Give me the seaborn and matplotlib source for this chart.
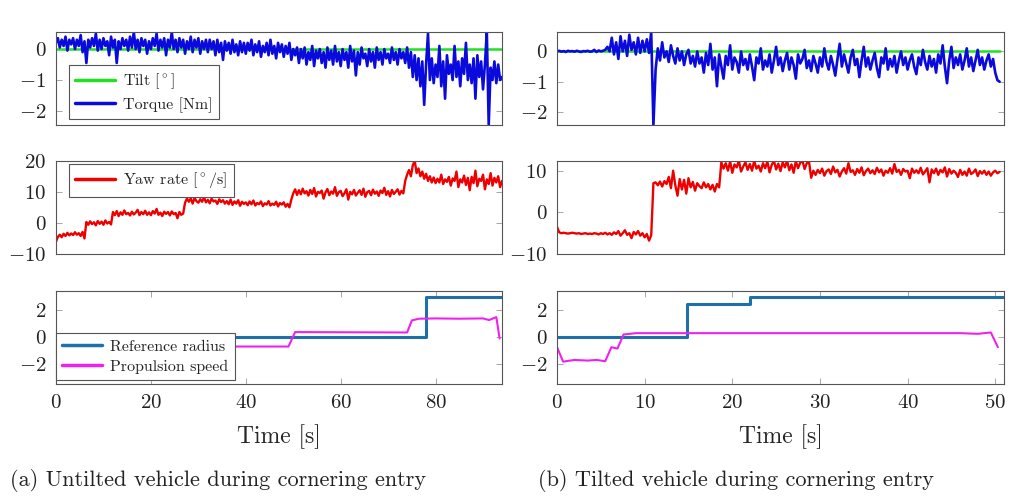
import numpy as np
import seaborn as sns
import matplotlib.pyplot as plt

# ---- data ----
# (a) untilted vehicle, torque sampled every 0.4 s
dt_a = 0.4
torque_a = [
    0.2, 0.35, 0.05, 0.3, 0.1, 0.4, -0.05, 0.3, 0.15, 0.35,
    0.0, 0.3, 0.1, 0.45, -0.1, 0.25, -0.45, 0.3, 0.05, 0.35,
    0.1, 0.5, -0.05, 0.3, 0.0, 0.35, 0.1, 0.25, -0.2, 0.4,
    0.05, 0.3, -0.45, 0.25, 0.0, 0.35, 0.1, 0.3, -0.05, 0.4,
    0.05, 0.55, 0.0, 0.3, -0.1, 0.35, 0.1, 0.3, -0.15, 0.25,
    0.0, 0.35, 0.1, 0.5, -0.05, 0.3, 0.05, 0.35, -0.2, 0.3,
    0.05, 0.55, 0.0, 0.3, -0.1, 0.35, 0.05, 0.3, -0.15, 0.25,
    0.0, 0.4, -0.1, 0.3, 0.05, 0.35, -0.15, 0.25, 0.0, 0.3,
    -0.1, 0.3, 0.0, 0.25, -0.2, 0.3, -0.1, 0.2, -0.35, 0.25,
    -0.05, 0.2, -0.15, 0.3, -0.1, 0.15, -0.2, 0.25, -0.1, 0.2,
    -0.15, 0.2, -0.05, 0.3, -0.2, 0.15, -0.1, 0.25, -0.25, 0.1,
    -0.1, 0.2, -0.2, 0.3, -0.15, 0.1, -0.3, 0.2, -0.1, 0.15,
    -0.25, 0.1, -0.15, 0.2, -0.35, 0.0, -0.2, 0.05, -0.45, 0.0,
    -0.3, 0.05, -0.5, -0.1, -0.35, 0.1, -0.55, -0.05, -0.3, 0.0,
    -0.45, -0.1, -0.6, 0.05, -0.35, -0.05, -0.5, 0.1, -0.4, -0.1,
    -0.55, 0.0, -0.35, -0.1, -0.6, 0.1, -0.4, -0.05, -0.85, -0.1,
    -0.5, 0.05, -0.3, -0.15, -0.55, 0.0, -0.4, -0.1, -0.6, 0.05,
    -0.35, -0.1, -0.5, 0.0, -0.3, -0.15, -0.45, 0.05, -0.35, -0.1,
    -0.5, 0.0, -0.3, -0.1, -0.45, 0.05, -0.6, -0.1, -0.9, -0.2,
    -1.0, -0.3, -1.2, -0.4, -1.8, -0.5, 0.5, -1.0, -0.3, -1.1,
    -0.5, -0.9, 0.1, -1.2, -0.4, -1.6, -0.2, -0.8, -0.5, -1.0,
    0.1, -0.9, -0.4, -1.2, -0.3, -0.8, 0.2, -1.0, -0.5, -1.1,
    -0.3, -1.6, -0.2, -0.9, -0.4, -1.3, -0.5, 0.55, -2.45, -0.6,
    -1.0, -0.4, -1.1, -0.5, -1.0, -0.9,
]
tilt_a = [0.0] * len(torque_a)

yaw_a = [
    -6.0, -4.5, -3.8, -4.6, -3.5, -4.2, -3.2, -4.0, -3.4, -3.9,
    -3.0, -3.8, -3.3, -4.2, -2.9, -5.0, 0.3, -0.6, 0.5, -0.4,
    0.2, -0.8, 0.6, -0.3, 0.4, -0.6, 0.8, -0.2, 0.3, -0.5,
    3.5, 2.5, 3.8, 2.2, 3.4, 2.6, 4.0, 2.8, 3.2, 2.4,
    3.6, 2.7, 3.3, 4.2, 2.5, 3.5, 2.8, 3.9, 2.6, 3.4,
    2.5, 3.8, 3.0, 4.5, 2.6, 3.3, 2.2, 3.6, 2.9, 3.5,
    2.4, 3.7, 2.8, 3.2, 1.5, 3.5, 2.6, 3.0, 6.5, 7.8,
    6.8, 7.9, 6.2, 8.0, 7.0, 6.5, 7.6, 6.8, 8.2, 6.6,
    7.4, 6.3, 7.8, 6.9, 7.2, 6.1, 7.6, 6.7, 7.3, 6.2,
    7.0, 6.0, 7.5, 5.8, 6.9, 6.2, 7.3, 5.5, 6.8, 6.1,
    6.6, 5.7, 6.9, 6.0, 7.2, 5.6, 6.4, 6.0, 6.9, 5.4,
    6.3, 5.9, 7.0, 5.6, 6.2, 5.8, 6.8, 5.3, 6.4, 5.9,
    6.6, 5.2, 6.1, 5.0, 7.5, 9.5, 10.8, 9.0, 10.5, 9.2,
    11.0, 9.5, 10.2, 8.8, 10.6, 9.3, 11.2, 8.5, 10.0, 9.6,
    10.4, 7.8, 9.8, 10.9, 8.9, 10.1, 9.4, 11.5, 8.7, 9.9,
    10.3, 8.6, 9.5, 10.8, 7.5, 10.0, 9.2, 10.6, 8.8, 9.7,
    10.5, 9.0, 11.0, 8.4, 9.9, 10.3, 8.9, 10.7, 9.4, 10.1,
    8.7, 10.4, 9.6, 11.3, 9.0, 10.2, 8.5, 10.6, 9.3, 10.0,
    10.8, 9.1, 10.3, 9.5, 13.5, 15.5, 17.0, 15.0, 18.5, 20.0,
    16.0, 17.5, 15.0, 16.5, 14.2, 15.8, 13.5, 15.0, 13.0, 14.6,
    12.8, 14.2, 13.0, 15.5, 12.5, 14.0, 13.2, 14.8, 12.0, 14.3,
    13.5, 16.5, 11.5, 14.0, 13.0, 15.2, 12.2, 14.5, 10.5, 14.8,
    12.8, 16.8, 11.8, 14.2, 13.5, 15.5, 10.8, 14.0, 12.5, 16.0,
    12.0, 14.5, 13.0, 15.0, 11.5, 13.5,
]

radius_a_t = [0, 78, 94]
radius_a = [0, 3, 3]
speed_a_t = [0, 49.0, 50.4, 74.0, 75.0, 76.5, 80, 85, 90, 91.3, 92.8, 93.5]
speed_a = [-0.7, -0.7, 0.38, 0.35, 1.25, 1.38, 1.4, 1.38, 1.4, 1.28, 1.5, -0.1]

# (b) tilted vehicle, sampled every 0.25 s
dt_b = 0.25
torque_b = [
    0.0, 0.02, -0.01, 0.01, -0.02, 0.02, 0.0, 0.01,
    -0.01, 0.02, 0.0, -0.02, 0.01, 0.0, 0.02, -0.01,
    0.0, 0.05, -0.02, 0.03, 0.0, 0.02, 0.05, 0.15,
    0.0, 0.45, -0.1, 0.3, -0.25, 0.5, 0.0, 0.35,
    -0.15, 0.55, 0.05, 0.3, -0.1, 0.45, -0.05, 0.35,
    0.0, 0.4, -0.05, 0.64, -2.43, -0.6, 0.1, -0.3,
    0.3, -0.2, 0.0, -0.35, 0.2, -0.15, -0.4, 0.1,
    -0.3, 0.0, -0.45, -0.1, 0.05, -0.4, -0.15, -0.5,
    0.0, -0.4, -0.2, -0.7, -0.05, -0.45, 0.25, -0.6,
    -0.2, -1.15, -0.1, -0.5, -0.9, -0.15, -0.45, 0.2,
    -0.6, -0.2, -0.35, -0.7, 0.0, -0.45, -0.25, -0.6,
    -0.1, -0.5, -0.95, -0.2, -0.4, 0.1, -0.6, -0.3,
    -0.5, -0.1, -0.7, -0.3, 0.15, -0.45, -0.2, -0.65,
    -0.3, -0.05, -0.6, -0.2, -0.45, -0.9, -0.1, -0.4,
    -0.25, 0.05, -0.55, -0.3, -0.65, -0.15, -0.4, -0.7,
    -0.2, -0.5, 0.1, -0.35, -0.6, -0.15, -0.45, -0.8,
    -0.25, 0.25, -0.5, -0.1, -0.4, -0.7, -0.2, 0.05,
    -0.45, -0.25, -0.85, -0.3, 0.15, -0.5, -0.2, -0.6,
    -0.3, -0.05, -0.55, -0.85, -0.2, -0.4, 0.1, -0.6,
    -0.25, -0.5, -0.15, -0.7, -0.3, 0.0, -0.45, -0.2,
    -0.6, -0.3, -0.1, -0.5, -0.75, -0.2, -0.45, 0.05,
    -0.35, -0.6, -0.15, -0.5, -0.25, -0.7, -0.1, -0.4,
    0.2, -0.5, -1.05, -0.3, 0.15, -0.55, -0.2, -0.45,
    -0.1, -0.6, -0.3, 0.1, -0.5, -0.2, -0.65, -0.3,
    0.05, -0.45, -0.2, -0.6, -0.3, -0.1, -0.5, -0.25,
    -0.7, -0.95, -1.0,
]
tilt_b = [0.0] * len(torque_b)

yaw_b = [
    -3.5, -4.8, -5.0, -4.9, -5.0, -5.1, -5.0, -4.9,
    -5.0, -5.1, -5.0, -5.2, -5.1, -5.0, -5.2, -5.1,
    -5.2, -5.0, -5.1, -5.3, -5.0, -5.2, -4.9, -5.3,
    -5.0, -5.4, -4.8, -5.2, -4.5, -5.6, -5.0, -4.3,
    -5.4, -5.0, -6.2, -4.7, -5.3, -4.5, -5.6, -5.0,
    -6.0, -5.2, -6.8, -5.5, 7.0, 7.2, 6.5, 7.4,
    6.2, 7.5, 6.8, 8.5, 5.8, 10.0, 6.5, 4.0,
    8.0, 5.5, 7.8, 4.5, 8.2, 6.0, 7.3, 5.2,
    7.0, 6.3, 5.8, 7.2, 6.0, 6.8, 5.5, 6.6,
    5.0, 6.8, 6.0, 12.0, 10.5, 11.8, 10.0, 12.2,
    9.5, 11.5, 10.8, 12.4, 9.8, 11.0, 12.0, 10.2,
    11.6, 10.0, 12.4, 10.5, 11.2, 9.8, 11.8, 10.6,
    12.2, 9.6, 11.4, 12.4, 10.3, 11.7, 9.9, 12.0,
    10.8, 12.4, 10.1, 11.5, 9.5, 12.3, 10.6, 11.9,
    12.4, 10.4, 11.8, 12.2, 8.3, 10.0, 9.0, 10.2,
    9.4, 10.5, 8.8, 9.9, 10.3, 9.2, 11.0, 9.6,
    10.2, 8.6, 9.8, 10.6, 9.3, 11.8, 9.7, 10.1,
    9.0, 10.4, 9.5, 10.8, 8.9, 9.9, 10.5, 9.4,
    10.1, 9.2, 10.7, 9.6, 10.3, 8.8, 10.0, 9.5,
    10.6, 9.3, 11.6, 9.7, 10.2, 9.0, 10.4, 9.8,
    10.0, 8.2, 10.5, 9.5, 10.1, 9.4, 10.7, 9.1,
    9.8, 10.6, 7.2, 10.3, 9.4, 10.5, 9.0, 10.2,
    9.6, 10.8, 8.6, 10.4, 9.3, 10.0, 9.5, 8.5,
    10.2, 9.0, 9.8, 8.8, 10.5, 9.2, 9.6, 10.3,
    8.7, 9.9, 9.3, 10.0, 9.0, 9.8, 8.8, 9.6,
    10.0, 9.4, 9.7,
]

radius_b_t = [0, 14.8, 22.0, 51]
radius_b = [0, 2.5, 3, 3]
speed_b_t = [0, 0.7, 2.0, 3.5, 4.5, 5.5, 6.2, 6.9, 7.6, 9.0, 30, 46, 48, 49.5, 50.3]
speed_b = [-0.75, -1.83, -1.7, -1.75, -1.7, -1.8, -0.75, -0.85, 0.2, 0.3, 0.3, 0.3, 0.25, 0.35, -0.75]

captions = ["(a) Untilted vehicle during cornering entry",
            "(b) Tilted vehicle during cornering entry"]

# ---- style ----
sns.set_style("white")
plt.rcParams.update({
    "font.family": "serif",
    "font.serif": ["cmr10", "DejaVu Serif"],
    "mathtext.fontset": "cm",
    "axes.formatter.use_mathtext": True,
    "axes.unicode_minus": True,
    "axes.edgecolor": "#555555",
    "axes.linewidth": 0.8,
    "text.color": "#222222",
    "xtick.color": "#999999",
    "ytick.color": "#999999",
    "xtick.labelcolor": "#222222",
    "ytick.labelcolor": "#222222",
})

GREEN = "#22e022"
BLUE = "#0a0adc"
RED = "#ee0000"
REF = "#1f6fa8"
MAG = "#ee22ee"

fig = plt.figure(figsize=(10.24, 5.04), dpi=100)
W, H = 1024, 504


def make_ax(x0, x1, y0, y1):
    return fig.add_axes([x0 / W, 1 - y1 / H, (x1 - x0) / W, (y1 - y0) / H])


def style(ax, show_x):
    ax.tick_params(direction="in", length=4, width=0.6, labelsize=15,
                   left=True, right=True, top=show_x, bottom=show_x,
                   labelbottom=show_x, pad=7)
    ax.set_xlabel("")
    ax.set_ylabel("")


def legend(ax, loc, anchor):
    leg = ax.legend(loc=loc, bbox_to_anchor=anchor, fontsize=11.5,
                    frameon=True, fancybox=False, framealpha=1,
                    edgecolor="#555555", borderaxespad=0, handlelength=2.5,
                    handletextpad=0.5, borderpad=0.4, labelspacing=0.35)
    leg.get_frame().set_linewidth(0.8)
    for h in leg.legend_handles:
        h.set_linewidth(2.5)
    return leg


cols = [(56, 502, dt_a, torque_a, tilt_a, yaw_a, radius_a_t, radius_a, speed_a_t, speed_a,
         94, (-2.45, 0.55), (-10, 20), [0, 20, 40, 60, 80], [-10, 0, 10, 20]),
        (557, 1004, dt_b, torque_b, tilt_b, yaw_b, radius_b_t, radius_b, speed_b_t, speed_b,
         51, (-2.43, 0.64), (-10, 12.4), [0, 10, 20, 30, 40, 50], [-10, 0, 10])]

for i, (x0, x1, dt, torque, tilt, yaw, r_t, r_v, s_t, s_v, xmax,
        ylim_top, ylim_mid, xticks, yticks_mid) in enumerate(cols):
    first = i == 0
    t_tq = np.arange(len(torque)) * dt
    t_yw = np.arange(len(yaw)) * dt

    # top: tilt and torque
    ax = make_ax(x0, x1, 32, 125)
    sns.lineplot(x=t_tq, y=tilt, ax=ax, color=GREEN, lw=1.8, estimator=None,
                 label=r"Tilt [$^\circ$]" if first else None, legend=False)
    sns.lineplot(x=t_tq, y=torque, ax=ax, color=BLUE, lw=1.9, estimator=None,
                 label="Torque [Nm]" if first else None, legend=False)
    ax.set_xlim(0, xmax)
    ax.set_ylim(*ylim_top)
    ax.set_yticks([-2, -1, 0])
    style(ax, False)
    if first:
        legend(ax, "lower left", (0.029, 0.065))

    # middle: yaw rate
    ax = make_ax(x0, x1, 160.7, 254)
    sns.lineplot(x=t_yw, y=yaw, ax=ax, color=RED, lw=1.7, estimator=None,
                 label=r"Yaw rate [$^\circ$/s]" if first else None, legend=False)
    ax.set_xlim(0, xmax)
    ax.set_ylim(*ylim_mid)
    ax.set_yticks(yticks_mid)
    style(ax, False)
    if first:
        legend(ax, "upper left", (0.029, 0.965))

    # bottom: reference radius and propulsion speed
    ax = make_ax(x0, x1, 291, 384)
    sns.lineplot(x=r_t, y=r_v, ax=ax, color=REF, lw=2.2, estimator=None,
                 drawstyle="steps-post", label="Reference radius" if first else None,
                 legend=False)
    sns.lineplot(x=s_t, y=s_v, ax=ax, color=MAG, lw=1.5, estimator=None,
                 label="Propulsion speed" if first else None, legend=False)
    ax.set_xlim(0, xmax)
    ax.set_ylim(-3.5, 3.45)
    ax.set_yticks([-2, 0, 2])
    ax.set_xticks(xticks)
    style(ax, True)
    ax.set_xlabel("Time [s]", fontsize=17)
    ax.xaxis.set_label_coords(0.5, -0.43)
    if first:
        legend(ax, "lower left", (0.0, 0.043))

fig.text(10 / W, 1 - 481 / H, captions[0], fontsize=16, ha="left", va="center")
fig.text(538 / W, 1 - 481 / H, captions[1], fontsize=16, ha="left", va="center")

fig.savefig("out.png", dpi=100)
